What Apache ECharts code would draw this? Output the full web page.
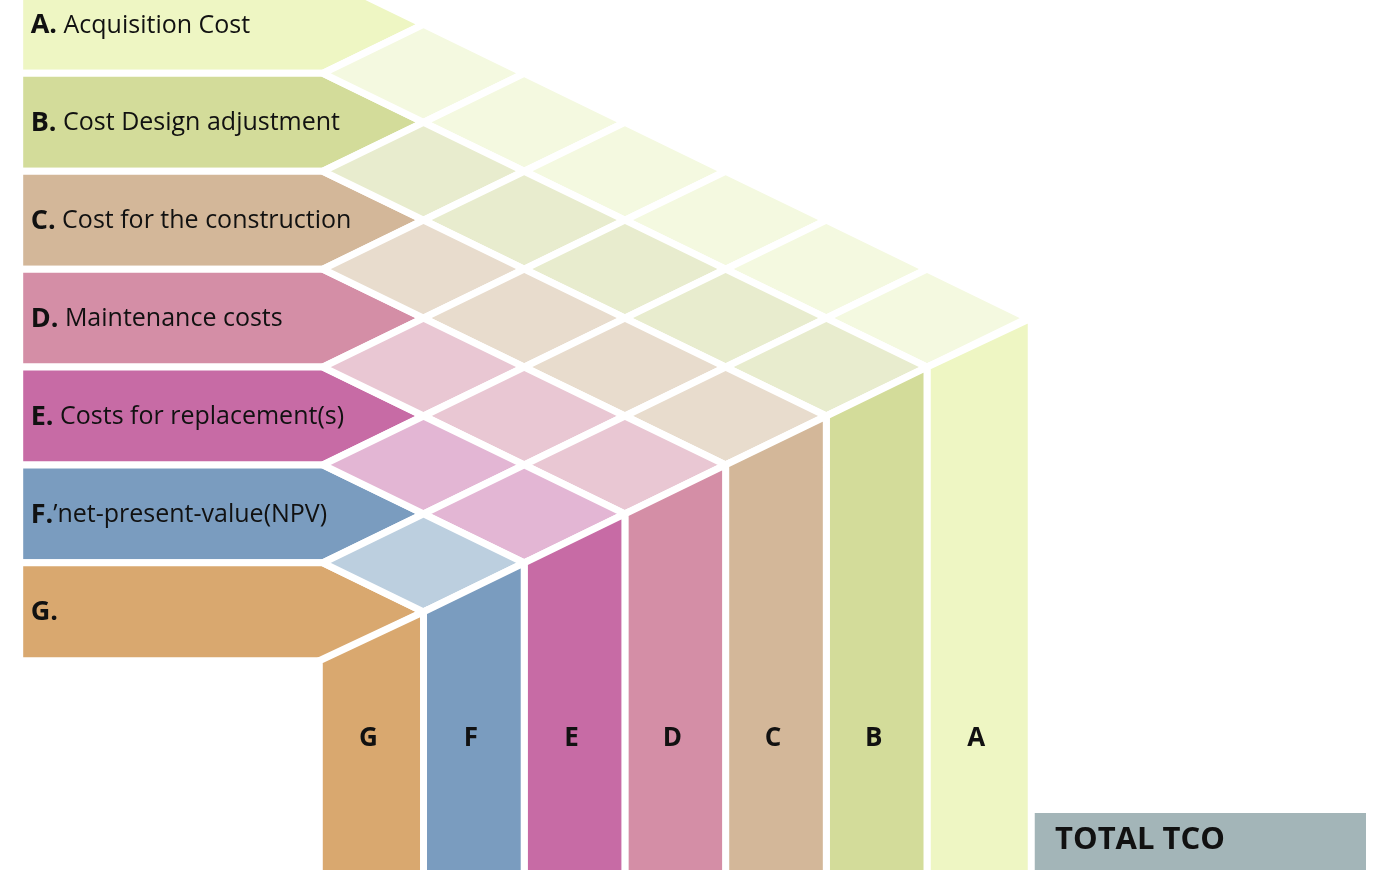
<!DOCTYPE html>
<html>
<head>
<meta charset="utf-8">
<title>TCO matrix</title>
<script src="https://cdn.jsdelivr.net/npm/echarts/dist/echarts.min.js"></script>
<style>
  html, body { margin: 0; padding: 0; background: #fff; }
  #container { width: 1398px; height: 870px; }
</style>
</head>
<body>
<div id="container"></div>
<script>
// cost rows, top to bottom
var rowKeys = ['A', 'B', 'C', 'D', 'E', 'F', 'G'];
var rowNames = [' Acquisition Cost', ' Cost Design adjustment', ' Cost for the construction',
  ' Maintenance costs', ' Costs for replacement(s)', '\u2019net-present-value(NPV)', ''];
var totalLabel = 'TOTAL TCO';

// palette: band / column colour and the lighter crossing cell colour
var bandColors = ['#eef6c3', '#d3dc9a', '#d3b799', '#d48ea6', '#c76ba5', '#7a9cbf', '#d9a86f'];
var cellColors = ['#f4f9e0', '#e8ecce', '#e8dccd', '#e9c7d3', '#e3b6d4', '#bccfdf', '#ffffff'];

var FONT = '"Open Sans", "Noto Sans", sans-serif';
var GAP = 7;

// crossing cells: row i meets every column to its right (staircase)
var cellData = [];
rowKeys.forEach(function (k, i) {
  for (var s = 0; s < rowKeys.length - 1 - i; s++) {
    cellData.push([i, s]);
  }
});

function poly(api, pts, fill) {
  return {
    type: 'polygon',
    shape: { points: pts.map(function (p) { return api.coord(p); }) },
    style: { fill: fill, stroke: '#fff', lineWidth: GAP }
  };
}

var dom = document.getElementById('container');
var myChart = echarts.init(dom, null, { renderer: 'canvas' });

// the axes are an isometric lattice: one x unit = half a cell width, one y unit = half a row
var option = {
  animation: false,
  backgroundColor: '#ffffff',
  grid: { left: 0, right: 0, top: 0, bottom: 0 },
  xAxis: { type: 'value', min: -4.2056, max: 9.677, show: false },
  yAxis: { type: 'value', min: -0.4985, max: 17.275, inverse: true, show: false },
  series: [
    {
      name: 'rows',
      type: 'custom',
      data: rowKeys.map(function (k, i) { return [i]; }),
      renderItem: function (params, api) {
        var i = api.value(0);
        var cy = 2 * i;
        var left = api.coord([-4, cy]);
        return {
          type: 'group',
          children: [
            poly(api, [[-4.01, cy - 1], [-1, cy - 1], [0, cy], [-1, cy + 1], [-4.01, cy + 1]], bandColors[i]),
            {
              type: 'text',
              x: left[0] + 10,
              y: left[1] + 1,
              style: {
                text: '{b|' + rowKeys[i] + '.}{n|' + rowNames[i] + '}',
                verticalAlign: 'middle',
                align: 'left',
                rich: {
                  b: { fontFamily: FONT, fontWeight: 'bold', fontSize: 27, fill: '#111' },
                  n: { fontFamily: FONT, fontSize: 25, fill: '#111' }
                }
              }
            }
          ]
        };
      }
    },
    {
      name: 'cells',
      type: 'custom',
      data: cellData,
      renderItem: function (params, api) {
        var i = api.value(0), s = api.value(1);
        var x = s, y = 2 * i + s;
        return poly(api, [[x, y], [x + 1, y + 1], [x, y + 2], [x - 1, y + 1]], cellColors[i]);
      }
    },
    {
      name: 'columns',
      type: 'custom',
      data: rowKeys.map(function (k, i) { return [i]; }),
      renderItem: function (params, api) {
        var j = api.value(0);
        var n = rowKeys.length;
        // top edge sits under the last crossing cell of row j
        var x0 = n - 2 - j, x1 = n - 1 - j;
        var y0 = n + j, y1 = n - 1 + j;
        // outer edges are not shrunk by the gap
        if (j === n - 1) x0 -= 0.035;
        if (j === 0) x1 += 0.035;
        var mid = api.coord([(x0 + x1) / 2, 14.6]);
        return {
          type: 'group',
          children: [
            poly(api, [[x0, y0], [x1, y1], [x1, 18], [x0, 18]], bandColors[j]),
            {
              type: 'text',
              x: mid[0] - 3,
              y: mid[1],
              style: {
                text: rowKeys[j],
                align: 'center',
                verticalAlign: 'middle',
                fontFamily: FONT,
                fontWeight: 'bold',
                fontSize: 26,
                fill: '#111'
              }
            }
          ]
        };
      }
    }
  ],
  graphic: [
    {
      type: 'group',
      left: 1033,
      top: 813,
      children: [
        { type: 'rect', shape: { x: 0, y: 0, width: 333, height: 60 }, style: { fill: '#a3b5b8' } },
        {
          type: 'text', x: 22, y: 27,
          style: {
            text: totalLabel, verticalAlign: 'middle', align: 'left',
            fontFamily: FONT, fontWeight: 'bold', fontSize: 31, fill: '#111'
          }
        }
      ]
    }
  ]
};

if (option && typeof option === 'object') {
  myChart.setOption(option, true);
}
</script>
</body>
</html>
